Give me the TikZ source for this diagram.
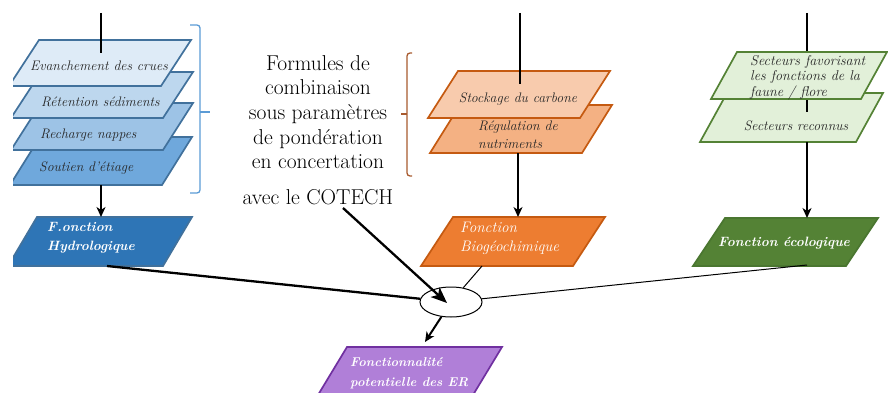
\documentclass[tikz,border=0pt]{standalone}
\usepackage{fontspec}
\usetikzlibrary{arrows.meta,shapes.geometric}
\definecolor{bla}{HTML}{DEEBF7}
\definecolor{blb}{HTML}{BDD7EE}
\definecolor{blc}{HTML}{9DC3E6}
\definecolor{bld}{HTML}{6FA8DC}
\definecolor{ble}{HTML}{2E75B6}
\definecolor{bedge}{HTML}{41719C}
\definecolor{bbrace}{HTML}{5B9BD5}
\definecolor{ora}{HTML}{F8CBAD}
\definecolor{orb}{HTML}{F4B183}
\definecolor{orc}{HTML}{ED7D31}
\definecolor{oedge}{HTML}{C55A11}
\definecolor{obrace}{HTML}{A85A2E}
\definecolor{gra}{HTML}{E2F0D9}
\definecolor{gedge}{HTML}{548235}
\definecolor{grc}{HTML}{548235}
\definecolor{gedgeb}{HTML}{4A7630}
\definecolor{pua}{HTML}{B07FD8}
\definecolor{pedge}{HTML}{7030A0}
\newcommand\pgram[6]{\path[#1] (#2,#3) -- ++(#4,0) -- ++(-#6,#5) -- ++(-#4,0) -- cycle;}
\begin{document}
\begin{tikzpicture}[x=1pt,y=-1pt,
  boxline/.style={line width=1.7pt,line join=miter},
  lbl/.style={inner sep=0pt,font=\fontsize{13.8}{15}\selectfont\itshape,text=black!85},
  slbl/.style={inner sep=0pt,font=\fontsize{14.2}{15.5}\selectfont\itshape,text=black!85,align=left},
  wlbl/.style={inner sep=0pt,font=\fontsize{15.2}{19}\selectfont\itshape,text=white,align=left},
  wlblb/.style={inner sep=0pt,font=\fontsize{13.5}{19}\selectfont\bfseries\itshape,text=white,align=left},
  thinln/.style={line width=1.1pt},
  arr/.style={line width=2pt,-{Stealth[length=10pt,width=9pt,inset=3pt]}},
  bigarr/.style={line width=2.3pt,-{Stealth[length=16pt,width=13pt,inset=4pt]}},
  braceln/.style={line width=1.3pt,rounded corners=3pt}]
\useasboundingbox (0,0) rectangle (888,393);
\clip (0,0) rectangle (888,393);
% ---------- blue stack ----------
\begin{scope}
\clip (13,0) rectangle (888,393);
\pgram{boxline,draw=bedge,fill=bld}{40}{137}{152}{48}{30}
\pgram{boxline,draw=bedge,fill=blc}{41}{103}{152}{47}{30}
\pgram{boxline,draw=bedge,fill=blb}{41}{72}{152}{46}{30}
\pgram{boxline,draw=bedge,fill=bla}{39}{40}{152}{46}{30}
\pgram{boxline,draw=bedge,fill=ble}{37}{217}{155}{49}{29}
\end{scope}
\node[lbl,anchor=west] (evan) at (30,66) {Evanchement des crues};
\node[lbl,anchor=west] (ret) at (41,102) {Rétention sédiments};
\node[lbl,anchor=west] (rech) at (40,135) {Recharge nappes};
\node[lbl,anchor=west] (sout) at (39,168) {Soutien d’étiage};
\node[wlblb,anchor=west] (hydro) at (47,238) {F.onction\\Hydrologique};
\coordinate (btop) at (101,13);
\coordinate (bin) at (101,53);
\coordinate (bout) at (101,185);
\coordinate (hydroT) at (101,217);
\coordinate (hydroB) at (107,266);
\draw[braceln,draw=bbrace] (190,25) -| (200,193) -- (190,193);
\draw[line width=1.3pt,draw=bbrace] (200,112) -- (210,112);
% ---------- orange stack ----------
\pgram{boxline,draw=oedge,fill=orb}{460}{105}{152}{48}{30}
\pgram{boxline,draw=oedge,fill=ora}{458}{71}{152}{47}{30}
\pgram{boxline,draw=oedge,fill=orc}{453}{217}{152}{49}{32}
\node[lbl,anchor=center] (stock) at (518,99) {Stockage du carbone};
\node[lbl,align=left,font=\fontsize{13.8}{18}\selectfont\itshape,anchor=west] (regul) at (478,135) {Régulation de\\nutriments};
\node[wlbl,anchor=west] (bio) at (460,238) {Fonction\\Biogéochimique};
\coordinate (otop) at (520,13);
\coordinate (oin) at (520,84);
\coordinate (oout) at (518,153);
\coordinate (bioT) at (518,217);
\coordinate (bioB) at (482,266);
\draw[braceln,draw=obrace] (412,53) -| (407,176) -- (412,176);
\draw[line width=1.3pt,draw=obrace] (407,114) -- (401,114);
% ---------- green stack ----------
\pgram{boxline,draw=gedge,fill=gra}{727}{93}{156}{49}{27}
\coordinate (gtop) at (807,13);
\coordinate (gin) at (807,112);
\draw[thinln] (gtop) -- (gin);
\pgram{boxline,draw=gedge,fill=gra}{737}{52}{150}{47}{26}
\pgram{boxline,draw=gedgeb,fill=grc}{725}{218}{153}{48}{32}
\node[slbl,anchor=west] (fav) at (750,77.5) {Secteurs favorisant\\les fonctions de la\\faune / flore};
\node[lbl,anchor=center] (recon) at (796,126) {Secteurs reconnus};
\node[wlblb,anchor=center] (eco) at (784,243) {Fonction écologique};
\coordinate (gout) at (807,142);
\coordinate (ecoT) at (807,218);
\coordinate (ecoB) at (807,265);
% ---------- purple ----------
\pgram{boxline,draw=pedge,fill=pua}{347}{347}{155}{48}{29}
\node[wlblb,font=\fontsize{12.8}{20}\selectfont\bfseries\itshape,anchor=west] (pur) at (350,373) {Fonctionnalité\\potentielle des ER};
\coordinate (purT) at (425,342);
% ---------- centre text ----------
\node[inner sep=0pt,align=center,font=\fontsize{21.5}{24.6}\selectfont] (form) at (318,130)
  {Formules de\\combinaison\\sous paramètres\\de pondération\\en concertation\\[11pt]avec le COTECH};
\coordinate (cs) at (343,208);
\coordinate (cend) at (447,303);
% ---------- ellipse & connectors ----------
\node[draw,ellipse,line width=1pt,minimum width=62pt,minimum height=30pt,inner sep=0pt,fill=white] (ell) at (451,302) {};
\draw[thinln] (btop) -- (bin);
\draw[thinln] (otop) -- (oin);
\draw[arr] (bout) -- (hydroT);
\draw[arr] (oout) -- (bioT);
\draw[arr] (gout) -- (ecoT);
\draw[line width=2.3pt] (hydroB) -- (ell);
\draw[line width=1pt] (bioB) -- (ell);
\draw[line width=1pt] (ecoB) -- (ell);
\draw[bigarr] (cs) -- (cend);
\draw[arr] (ell) -- (purT);
\end{tikzpicture}
\end{document}
